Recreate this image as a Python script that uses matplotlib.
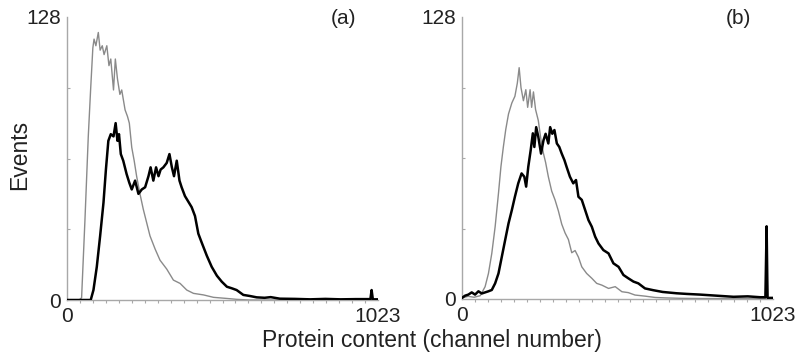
import matplotlib
matplotlib.use("Agg")
import matplotlib.pyplot as plt
import numpy as np

# ---------------- data ----------------
# Panel (a) grey histogram
a_grey_ch = [0, 40, 48, 59, 70, 78, 85, 89, 95, 103, 109, 116, 122, 131, 138, 144, 153, 159,
             166, 174, 180, 191, 199, 205, 213, 221, 229, 240, 251, 262, 273, 290, 306, 328,
             350, 372, 394, 416, 449, 482, 526, 558, 600, 700, 800, 900, 998, 1002, 1006, 1023]
a_grey_val = [0, 0, 1, 36, 74, 96, 114, 118, 115, 121, 113, 115, 111, 115, 106, 109, 95, 109,
              100, 93, 95, 86, 83, 80, 69, 63, 56, 48, 41, 35, 29, 23, 18, 14,
              9, 7.5, 4.5, 3, 2.3, 1.2, 0.7, 0.3, 0, 0, 0, 0, 0, 1.5, 0, 0]

# Panel (a) black histogram
a_black_ch = [0, 78, 87, 98, 109, 120, 128, 136, 144, 153, 160, 166, 171, 177, 185, 196, 205,
              213, 224, 235, 246, 257, 268, 275, 284, 293, 301, 308, 317, 328, 337, 345, 352,
              361, 370, 377, 388, 399, 410, 421, 432, 443, 460, 476, 493, 509, 526, 542, 558,
              580, 602, 624, 650, 670, 700, 750, 800, 850, 900, 950, 998, 1002, 1006, 1023]
a_black_val = [0, 0, 4.5, 15, 29, 44, 59, 72, 75, 74, 80, 72, 75, 66, 63, 57, 53,
               50, 54, 48, 50, 51, 56, 60, 54, 60, 56, 59, 60, 62, 66, 60, 56,
               63, 54, 51, 47, 44.5, 42, 38, 30, 26, 20, 15, 11, 8.3, 6, 5.3, 4.5,
               2.3, 1.8, 1.2, 1.0, 1.3, 0.6, 0.5, 0.3, 0.5, 0.3, 0.4, 0.4, 4.5, 0.3, 0.3]

# Panel (b) grey histogram
b_grey_ch = [0, 20, 40, 60, 76, 87, 98, 109, 120, 128, 136, 144, 153, 164, 174, 182, 188, 194,
             202, 210, 216, 224, 229, 235, 242, 251, 260, 268, 275, 284, 295, 306, 317, 328,
             339, 350, 361, 372, 383, 394, 410, 427, 443, 460, 482, 504, 526, 547, 569, 602,
             635, 668, 720, 800, 900, 998, 1002, 1006, 1023]
b_grey_val = [0.5, 1.2, 0.8, 1.5, 5.6, 11.6, 20.7, 32.8, 48, 60, 69, 77, 84, 89, 92, 98, 105, 96,
              90, 95, 87, 95, 87, 94, 86, 81, 72, 66, 62, 55.5, 49, 45, 40, 34,
              30, 27, 21, 22, 19, 14.6, 11.6, 9.4, 7.1, 6.3, 4.8, 5.6, 3.3, 2.9, 1.8, 1.3,
              0.7, 0.5, 0.3, 0.2, 0.2, 0.2, 20, 0.2, 0.2]

# Panel (b) black histogram
b_black_ch = [0, 10, 21, 32, 43, 54, 65, 76, 87, 98, 109, 120, 131, 142, 153, 164, 174, 185,
              196, 205, 211, 218, 226, 233, 238, 244, 251, 260, 268, 275, 284, 290, 297, 304,
              312, 320, 328, 337, 344, 355, 366, 375, 383, 394, 405, 416, 427, 438, 449, 465,
              482, 498, 515, 531, 547, 564, 580, 602, 629, 660, 706, 740, 783, 838, 893, 940,
              981, 998, 1002, 1005, 1023]
b_black_val = [0.5, 1.5, 2, 3, 2, 3.5, 2.5, 3, 3.5, 4.1, 7.1, 11.6, 19.2, 26.8, 34.3, 40.4, 46.4, 52.5,
               57, 55.5, 51, 60, 67.6, 75.2, 69, 78, 73.6, 66, 72, 75, 70.6, 78, 75, 76.7,
               70.6, 69, 66, 63, 60, 55.5, 52.5, 54, 46.4, 45, 40.4, 35.8, 32.8, 28.3, 25.2, 22.2,
               20.7, 16.2, 14.6, 10.9, 9.4, 7.9, 7.1, 4.8, 4, 3.2, 2.6, 2.3, 2, 1.5, 1.0, 1.2,
               0.8, 0.8, 33, 0.5, 0.5]

x_ticklabels = ["0", "1023"]
y_ticklabels = ["0", "128"]
panel_labels = ["(a)", "(b)"]

# ---------------- figure ----------------
plt.rcParams['font.family'] = ['Liberation Sans', 'DejaVu Sans']
fig = plt.figure(figsize=(7.98, 3.54), dpi=100)

axes_rects = [
    [67 / 798, 1 - 300 / 354, 311 / 798, 283 / 354],
    [462 / 798, 1 - 299 / 354, 311 / 798, 282 / 354],
]
series = [
    ((a_grey_ch, a_grey_val), (a_black_ch, a_black_val)),
    ((b_grey_ch, b_grey_val), (b_black_ch, b_black_val)),
]
axis_col = "#a8a8a8"

for rect, (grey, black), plab in zip(axes_rects, series, panel_labels):
    ax = fig.add_axes(rect)
    ax.plot(grey[0], grey[1], color="#8a8a8a", lw=1.0, zorder=2)
    ax.plot(black[0], black[1], color="black", lw=1.8, zorder=3)
    ax.set_xlim(0, 1023)
    ax.set_ylim(0, 128)
    for s in ["top", "right"]:
        ax.spines[s].set_visible(False)
    for s in ["left", "bottom"]:
        ax.spines[s].set_color(axis_col)
        ax.spines[s].set_linewidth(1.0)
    ax.set_xticks([0, 1023])
    ax.set_xticklabels(x_ticklabels, fontsize=15)
    ax.set_yticks([0, 128])
    ax.set_yticklabels(y_ticklabels, fontsize=15)
    ax.tick_params(axis="x", which="major", length=0, pad=5, colors="#222222")
    ax.tick_params(axis="y", which="major", length=0, pad=4.5, colors="#222222")
    ax.set_xticks(np.linspace(0, 1023, 25), minor=True)
    ax.set_yticks([32, 64, 96], minor=True)
    ax.tick_params(axis="x", which="minor", length=2.5, direction="out", color=axis_col, width=0.8)
    ax.tick_params(axis="y", which="minor", length=2.5, direction="in", color=axis_col, width=0.8)
    ax.text(0.89, 0.995, plab, transform=ax.transAxes, fontsize=15,
            ha="center", va="center", color="#222222")

fig.text(20 / 798, 1 - 155 / 354, "Events", rotation=90, fontsize=16.5,
         ha="center", va="center", color="#222222")
fig.text(432 / 798, 1 - 340 / 354, "Protein content (channel number)", fontsize=16.5,
         ha="center", va="center", color="#222222")

fig.savefig("out.png", dpi=100)
